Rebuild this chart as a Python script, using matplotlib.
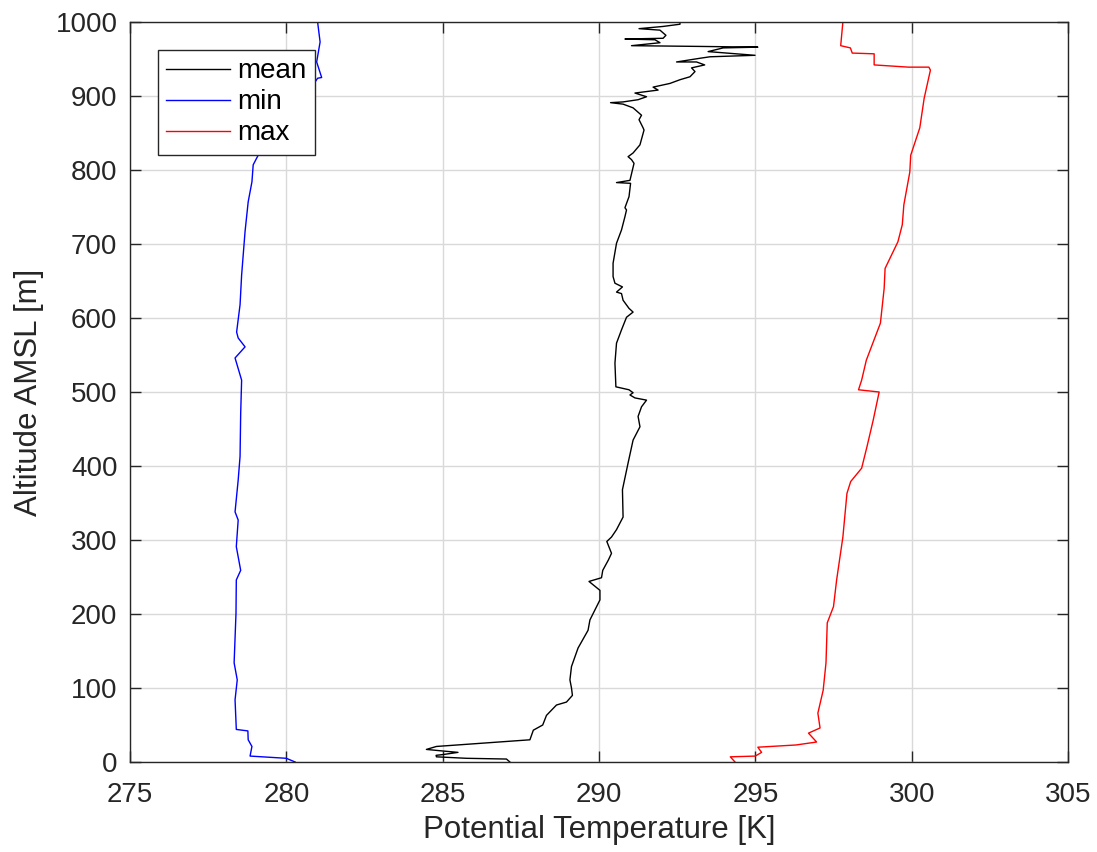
import matplotlib
matplotlib.use("Agg")
import matplotlib.pyplot as plt

# ---- data (Potential temperature [K], altitude [m]) ----
mean_T = [287.15, 287.04, 285.76, 284.80, 284.79, 285.00, 285.49, 284.97, 284.48, 284.80,
          287.79, 287.90, 288.20, 288.32, 288.64, 288.96, 289.15, 289.12, 289.07, 289.12,
          289.33, 289.65, 289.71, 290.03, 290.03, 289.68, 290.08, 290.12, 290.30, 290.40,
          290.25, 290.40, 290.56, 290.77, 290.75, 290.93, 291.09, 291.31, 291.25, 291.36,
          291.52, 291.15, 290.99, 291.09, 290.96, 290.54, 290.51, 290.56, 290.72, 290.88,
          291.09, 290.96, 290.77, 290.72, 290.56, 290.75, 290.51, 290.45, 290.45, 290.56,
          290.72, 290.83, 290.88, 290.83, 290.96, 291.01, 290.56, 290.99, 291.12, 291.04,
          290.93, 291.09, 291.31, 291.44, 291.41, 291.28, 291.36, 291.09, 290.77, 290.37,
          290.77, 291.25, 291.52, 291.15, 291.89, 291.73, 292.27, 292.59, 292.91, 293.07,
          292.96, 293.38, 293.12, 292.48, 293.23, 293.55, 294.99, 293.49, 293.97, 295.08,
          293.23, 291.04, 291.95, 291.79, 290.83, 292.05, 292.14, 291.95, 291.28, 292.05,
          292.59, 292.59]
mean_z = [0, 4, 5, 7, 9, 10, 13, 15, 17, 21,
          30, 43, 50, 63, 77, 81, 90, 100, 111, 129,
          154, 178, 192, 219, 232, 244, 249, 259, 273, 282,
          298, 304, 314, 331, 368, 404, 435, 453, 467, 480,
          489, 492, 496, 499, 503, 507, 539, 566, 584, 601,
          608, 613, 624, 633, 635, 642, 647, 656, 674, 701,
          719, 737, 746, 749, 764, 782, 783, 786, 809, 814,
          818, 823, 834, 854, 857, 868, 874, 884, 889, 891,
          892, 895, 899, 904, 908, 912, 917, 922, 926, 933,
          938, 942, 946, 946, 951, 953, 955, 960, 965, 966,
          967, 968, 972, 976, 977, 978, 982, 989, 991, 994,
          997, 1000]

min_T = [280.28, 280.00, 278.84, 278.90, 278.78, 278.77, 278.40, 278.36, 278.43, 278.33,
         278.39, 278.40, 278.54, 278.40, 278.46, 278.36, 278.46, 278.52, 278.54, 278.57,
         278.36, 278.68, 278.46, 278.41, 278.52, 278.57, 278.68, 278.78, 278.90, 278.94,
         279.10, 279.60, 280.20, 280.70, 281.00, 281.13, 280.97, 281.08, 281.00]
min_z = [0, 5, 8, 21, 30, 42, 44, 84, 111, 134,
         201, 246, 259, 291, 327, 338, 381, 413, 471, 516,
         546, 561, 573, 581, 618, 658, 717, 757, 784, 807,
         820, 850, 880, 905, 924, 925, 946, 973, 1000]

max_T = [294.35, 294.20, 295.00, 295.20, 295.08, 296.30, 296.96, 296.70, 297.07, 297.00,
         297.17, 297.26, 297.30, 297.50, 297.60, 297.80, 297.93, 298.05, 298.40, 298.57,
         298.77, 298.96, 298.30, 298.40, 298.55, 299.00, 299.12, 299.15, 299.56, 299.70,
         299.75, 299.94, 299.97, 300.26, 300.40, 300.60, 300.55, 299.90, 298.80, 298.80,
         298.10, 298.04, 297.73, 297.80]
max_z = [0, 7, 8, 13, 20, 23, 27, 39, 46, 66,
         97, 134, 188, 210, 246, 304, 363, 379, 397, 426,
         462, 500, 503, 516, 543, 593, 640, 667, 703, 726,
         753, 797, 820, 857, 897, 935, 939, 939, 942, 957,
         958, 965, 968, 1000]

x_ticks = [275, 280, 285, 290, 295, 300, 305]
y_ticks = [0, 100, 200, 300, 400, 500, 600, 700, 800, 900, 1000]

plt.rcParams['font.family'] = ['Liberation Sans', 'DejaVu Sans']
txt = '#262626'

fig = plt.figure(figsize=(10.97, 8.52), dpi=100)
ax = fig.add_axes([130/1097, 90/852, 938/1097, 740/852])

ax.plot(mean_T, mean_z, color='black', lw=1.0, label='mean')
ax.plot(min_T, min_z, color='#0000ff', lw=1.0, label='min')
ax.plot(max_T, max_z, color='#ff0000', lw=1.0, label='max')

ax.set_xlim(275, 305)
ax.set_ylim(0, 1000)
ax.set_xticks(x_ticks)
ax.set_yticks(y_ticks)
ax.grid(True, color='#d9d9d9', lw=1.0)
ax.set_axisbelow(True)
ax.tick_params(direction='in', top=True, right=True, length=8, width=1.0,
               labelsize=20, colors=txt, labelcolor=txt)
ax.tick_params(axis='x', pad=14.5)
ax.tick_params(axis='y', pad=9)
for s in ax.spines.values():
    s.set_color(txt)
    s.set_linewidth(1.0)
ax.set_xlabel('Potential Temperature [K]', fontsize=22.5, color=txt, labelpad=5)
ax.set_ylabel('Altitude AMSL [m]', fontsize=22.5, color=txt, labelpad=8)

leg = ax.legend(loc='upper left', bbox_to_anchor=(28/938, 1 - 28/740),
                borderaxespad=0, fontsize=20,
                frameon=True, fancybox=False, edgecolor=txt, framealpha=1,
                handlelength=2.3, handletextpad=0.25, borderpad=0.3, labelspacing=0.18)
leg.get_frame().set_linewidth(1.0)
for t in leg.get_texts():
    t.set_color('black')

fig.savefig('out.png', dpi=100)
